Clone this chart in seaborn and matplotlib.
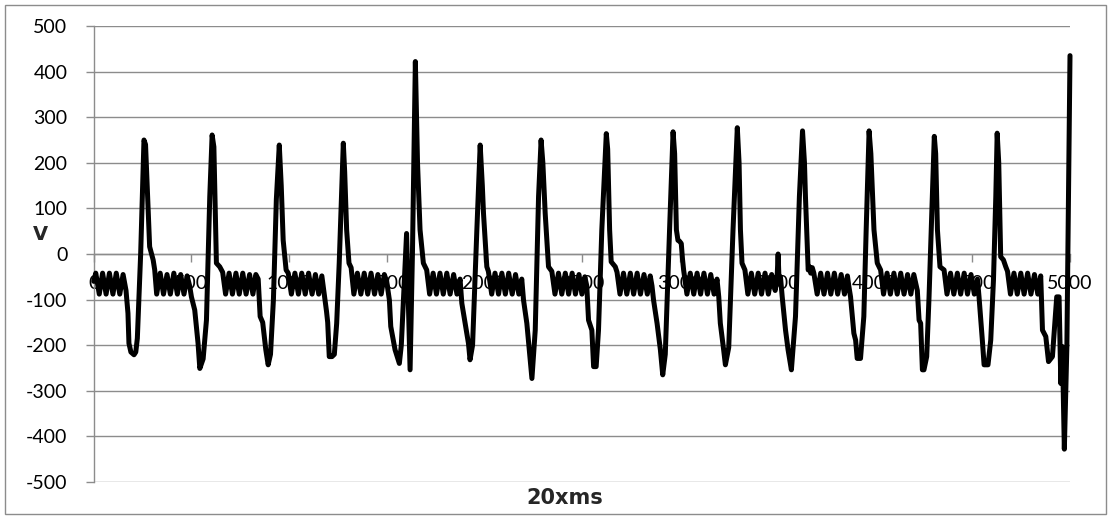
import matplotlib
matplotlib.use("Agg")
import matplotlib.pyplot as plt
from matplotlib.patches import Rectangle
import seaborn as sns
import pandas as pd

# ---- data: vertices of the trace (x in 20 ms units, V) ----
time_pts = [
    0, 10, 28, 45, 63, 80, 98, 115, 133, 150, 165,
    175, 180, 190, 206, 215, 223, 240, 257, 265, 278, 286, 304, 312,
    322, 340, 357, 375, 392, 410, 428, 445, 462, 478, 491,
    500, 517, 534, 543, 560, 577, 594, 606, 615, 628, 645, 660,
    675, 693, 710, 728, 745, 763, 780, 798, 815, 830, 842,
    852, 865, 881, 893, 905, 920, 935, 950, 960, 970, 985, 996,
    1012, 1030, 1048, 1065, 1083, 1100, 1118, 1135, 1152, 1168, 1178,
    1192, 1198, 1206, 1220, 1232, 1244, 1257, 1278, 1285, 1295, 1307, 1318,
    1332, 1350, 1368, 1385, 1403, 1420, 1438, 1455, 1472, 1488, 1500,
    1514, 1521, 1543, 1565, 1575, 1602, 1620, 1632, 1647, 1658, 1671, 1688, 1705,
    1720, 1738, 1755, 1773, 1790, 1808, 1825, 1843, 1860, 1876,
    1885, 1902, 1919, 1927, 1940, 1962, 1979, 1990, 1996, 2013, 2021,
    2038, 2055, 2073, 2090, 2108, 2125, 2143, 2160, 2177, 2192,
    2201, 2218, 2235, 2244, 2261, 2278, 2291, 2300, 2312, 2329, 2346,
    2362, 2380, 2397, 2415, 2432, 2450, 2467, 2485, 2500, 2515, 2525,
    2534, 2551, 2560, 2573, 2585, 2602, 2625, 2632, 2642, 2650, 2671, 2680,
    2695, 2713, 2730, 2748, 2765, 2783, 2800, 2818, 2835, 2850, 2859,
    2867, 2885, 2902, 2914, 2927, 2949, 2967, 2975, 2984, 2992, 3000, 3009, 3015, 3021,
    3038, 3055, 3073, 3090, 3108, 3125, 3143, 3160, 3177, 3192,
    3201, 3209, 3226, 3235, 3252, 3274, 3296, 3305, 3312, 3320, 3335,
    3350, 3368, 3385, 3403, 3420, 3438, 3455, 3472, 3490, 3500, 3505, 3510, 3517,
    3526, 3543, 3556, 3573, 3594, 3614, 3630, 3640, 3645, 3659, 3665, 3672, 3680, 3688,
    3705, 3723, 3740, 3758, 3775, 3793, 3810, 3828, 3845, 3860, 3867,
    3876, 3893, 3902, 3910, 3927, 3944, 3956, 3971, 3980, 3996, 4013, 4030,
    4045, 4063, 4080, 4098, 4115, 4133, 4150, 4168, 4185, 4200, 4218,
    4227, 4235, 4244, 4252, 4266, 4278, 4295, 4305, 4312, 4321, 4334, 4355,
    4370, 4388, 4405, 4423, 4440, 4458, 4475, 4493, 4510, 4526,
    4534, 4551, 4560, 4580, 4594, 4608, 4620, 4627, 4635, 4645, 4659, 4671, 4680,
    4695, 4713, 4730, 4748, 4765, 4783, 4800, 4818, 4835, 4850,
    4859, 4876, 4890, 4910, 4932, 4944, 4953, 4961, 4971, 4984, 5000,
]
voltage = [
    -60, -42, -88, -42, -88, -42, -88, -42, -88, -45, -80,
    -130, -196, -215, -221, -215, -185, 0, 250, 240, 100, 16, -13, -35,
    -88, -42, -88, -45, -88, -42, -88, -45, -88, -48, -70,
    -94, -123, -196, -251, -230, -145, 126, 261, 235, -20, -28, -40,
    -88, -42, -88, -42, -88, -42, -88, -45, -88, -45, -55,
    -137, -150, -210, -243, -220, -100, 120, 239, 150, 30, -35, -42,
    -88, -42, -88, -42, -88, -42, -88, -45, -88, -48, -80,
    -126, -150, -225, -225, -220, -152, -20, 243, 180, 53, -20, -30,
    -88, -42, -88, -42, -88, -42, -88, -45, -88, -45, -60,
    -101, -159, -210, -240, -200, 45, -254, 0, 422, 200, 53, -20, -35,
    -88, -42, -88, -42, -88, -42, -88, -45, -88, -55,
    -108, -152, -196, -232, -200, 53, 239, 150, 89, -28, -38,
    -88, -42, -88, -42, -88, -42, -88, -45, -88, -55,
    -101, -152, -232, -273, -167, 126, 250, 200, 89, -28, -38,
    -88, -42, -88, -42, -88, -42, -88, -45, -88, -50, -70,
    -145, -167, -247, -247, -167, 53, 264, 230, 53, -17, -28, -40,
    -88, -42, -88, -42, -88, -42, -88, -45, -88, -48, -70,
    -101, -152, -210, -265, -220, 53, 268, 220, 53, 30, 28, 23, -10, -35,
    -88, -42, -88, -42, -88, -42, -88, -45, -88, -55,
    -94, -152, -210, -243, -205, 53, 277, 200, 53, -20, -35,
    -88, -42, -88, -42, -88, -42, -88, -45, -80, -50, 0, -60, -50,
    -94, -167, -210, -254, -137, 126, 270, 200, 126, -35, -28, -42, -30, -42,
    -88, -42, -88, -42, -88, -42, -88, -45, -88, -48, -70,
    -94, -174, -189, -229, -229, -137, 53, 270, 220, 53, -20, -35,
    -88, -42, -88, -42, -88, -42, -88, -45, -88, -45, -80,
    -145, -152, -254, -254, -225, -94, 126, 258, 220, 53, -28, -35,
    -88, -42, -88, -42, -88, -42, -88, -45, -88, -55,
    -94, -189, -243, -243, -189, -57, 126, 265, 200, -6, -13, -28, -38,
    -88, -42, -88, -42, -88, -42, -88, -45, -88, -48,
    -167, -181, -236, -225, -94, -94, -284, -203, -428, -203, 435,
]
x_ticks = [0, 500, 1000, 1500, 2000, 2500, 3000, 3500, 4000, 4500, 5000]
y_ticks = [-500, -400, -300, -200, -100, 0, 100, 200, 300, 400, 500]
x_title = "20xms"
y_title = "V"

df = pd.DataFrame({"t": time_pts, "v": voltage})

sns.set_style("white")
plt.rcParams["font.family"] = ["Lato", "DejaVu Sans"]
plt.rcParams["axes.unicode_minus"] = False

W, H = 1110, 518
fig = plt.figure(figsize=(W / 100, H / 100), dpi=100)
ax_l, ax_r, ax_t, ax_b = 93.8, 1070, 26, 482
ax = fig.add_axes([ax_l / W, 1 - ax_b / H, (ax_r - ax_l) / W, (ax_b - ax_t) / H])

grid_c = "#8c8c8c"
sns.lineplot(data=df, x="t", y="v", ax=ax, sort=False, estimator=None,
             color="black", linewidth=3.6, zorder=5, clip_on=False)

ax.set_xlim(0, 5000)
ax.set_ylim(-500, 500)
ax.set_xticks(x_ticks)
ax.set_yticks(y_ticks)
ax.set_xticklabels([str(v) for v in x_ticks])
ax.set_yticklabels([str(v) for v in y_ticks])

ax.yaxis.grid(True, color=grid_c, linewidth=1.0)
ax.xaxis.grid(False)
ax.set_axisbelow(True)

for s in ["top", "right"]:
    ax.spines[s].set_visible(False)
ax.spines["left"].set_color(grid_c)
ax.spines["left"].set_linewidth(1.0)
ax.spines["bottom"].set_position(("data", 0))
ax.spines["bottom"].set_color(grid_c)
ax.spines["bottom"].set_linewidth(1.0)

ax.tick_params(axis="y", direction="out", length=6, width=1.0, color=grid_c,
               pad=13, labelsize=14, labelcolor="black", left=True)
ax.tick_params(axis="x", direction="out", length=6, width=1.0, color=grid_c,
               pad=9, labelsize=14, labelcolor="black", bottom=True)

ax.set_xlabel("")
ax.set_ylabel("")
fig.text(565 / W, 1 - 498 / H, x_title, ha="center", va="center",
         fontsize=15, fontweight="bold", family="DejaVu Sans")
fig.text(40 / W, 1 - 234 / H, y_title, ha="center", va="center",
         fontsize=14, fontweight="bold", family="DejaVu Sans")

fig.add_artist(Rectangle((4.5 / W, 4.5 / H), (W - 9) / W, (H - 9) / H,
                         transform=fig.transFigure, fill=False,
                         edgecolor="#8c8c8c", linewidth=1.0))

fig.savefig("out.png", dpi=100)
